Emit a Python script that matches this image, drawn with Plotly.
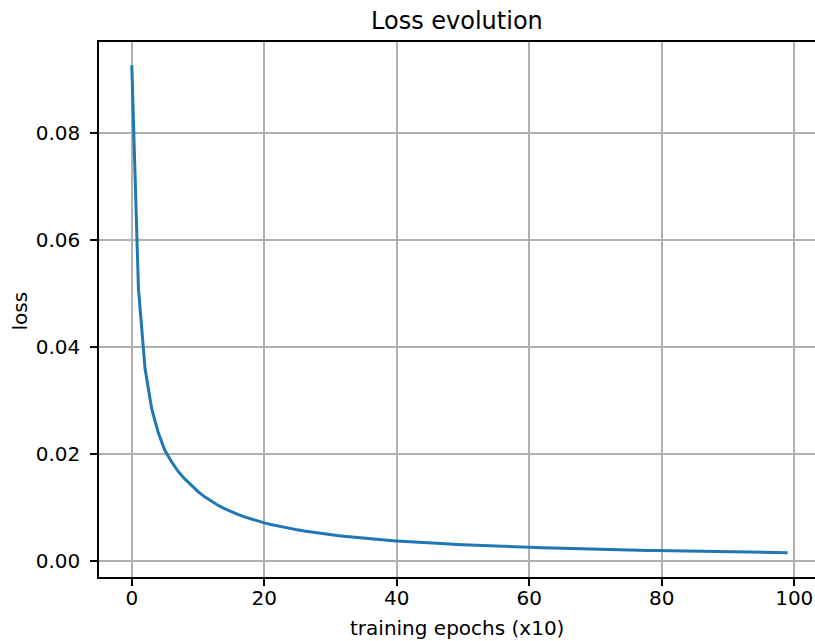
import plotly.graph_objects as go

epochs = list(range(100))
loss = [
    0.0926, 0.0510, 0.0360, 0.0285, 0.0240, 0.0207, 0.0186, 0.0168, 0.0154, 0.0142,
    0.01303, 0.01205, 0.01121, 0.01048, 0.00984, 0.00927, 0.00877, 0.00832, 0.00791, 0.00754,
    0.00720, 0.00689, 0.00661, 0.00635, 0.00611, 0.00589, 0.00568, 0.00549, 0.00532, 0.00515,
    0.00499, 0.00484, 0.00470, 0.00457, 0.00445, 0.00433, 0.00422, 0.00411, 0.00401, 0.00392,
    0.00383, 0.00374, 0.00366, 0.00358, 0.00350, 0.00343, 0.00336, 0.00329, 0.00323, 0.00317,
    0.00311, 0.00305, 0.00300, 0.00294, 0.00289, 0.00284, 0.00280, 0.00275, 0.00271, 0.00266,
    0.00262, 0.00258, 0.00254, 0.00250, 0.00247, 0.00243, 0.00240, 0.00236, 0.00233, 0.00230,
    0.00227, 0.00224, 0.00221, 0.00218, 0.00215, 0.00212, 0.00210, 0.00207, 0.00205, 0.00202,
    0.00200, 0.00198, 0.00195, 0.00193, 0.00190, 0.00188, 0.00186, 0.00184, 0.00182, 0.00180,
    0.00178, 0.00176, 0.00174, 0.00172, 0.00171, 0.00169, 0.00167, 0.00166, 0.00164, 0.00163,
]
x_ticks = [0, 20, 40, 60, 80, 100]
y_ticks = [0.00, 0.02, 0.04, 0.06, 0.08]
y_tick_labels = ["0.00", "0.02", "0.04", "0.06", "0.08"]

FONT = "DejaVu Sans"
TXT = "#000000"

fig = go.Figure()
fig.add_trace(go.Scatter(
    x=epochs, y=loss, mode="lines",
    line=dict(color="#1f77b4", width=3),
    showlegend=False, hoverinfo="skip",
))

W, H = 815, 641
ml, mr, mt, mb = 99, 0, 42, 64
xc = (457 - ml) / (W - ml - mr)

axis_common = dict(
    ticks="outside", ticklen=7, tickwidth=1.6, tickcolor="#000000",
    showline=True, linecolor="#000000", linewidth=1.6,
    showgrid=True, gridcolor="#b0b0b0", gridwidth=1.6,
    zeroline=False,
    tickfont=dict(family=FONT, size=20, color=TXT),
)

fig.update_layout(
    width=W, height=H,
    margin=dict(l=ml, r=mr, t=mt, b=mb, pad=0),
    paper_bgcolor="white", plot_bgcolor="white",
    font=dict(family=FONT, size=20, color=TXT),
    xaxis=dict(range=[-4.95, 103.13], tickvals=x_ticks, mirror=True,
               ticklabelstandoff=-5, **axis_common),
    yaxis=dict(range=[-0.00291, 0.09694], tickvals=y_ticks, ticktext=y_tick_labels,
               mirror=False, ticklabelstandoff=6, **axis_common),
    annotations=[
        dict(text="Loss evolution", xref="paper", yref="paper",
             x=xc, y=1, yshift=5,
             xanchor="center", yanchor="bottom", showarrow=False,
             font=dict(family=FONT, size=24, color=TXT)),
        dict(text="training epochs (x10)", xref="paper", yref="paper",
             x=xc, y=0, yshift=-37,
             xanchor="center", yanchor="top", showarrow=False,
             font=dict(family=FONT, size=20, color=TXT)),
        dict(text="loss", xref="paper", yref="paper",
             x=0, xshift=-80, y=0.5, yshift=-2, textangle=-90,
             xanchor="center", yanchor="middle", showarrow=False,
             font=dict(family=FONT, size=20, color=TXT)),
    ],
)

fig.write_html("out.html", config={"displayModeBar": False},
               post_script="document.body.style.margin='0';")
